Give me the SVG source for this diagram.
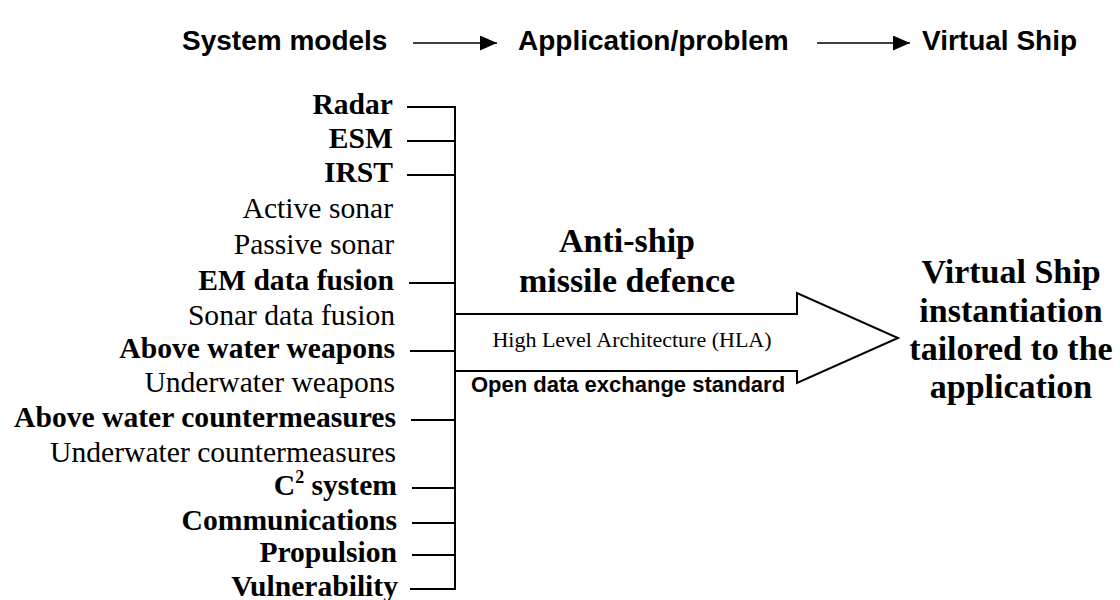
<svg xmlns="http://www.w3.org/2000/svg" width="1120" height="600" viewBox="0 0 1120 600">
<style>
.hd{font-family:"Liberation Sans",Arial,sans-serif;font-weight:bold;font-size:28px;fill:#000}
.lb{font-family:"Liberation Serif","Times New Roman",serif;font-size:29.6px;fill:#000;text-anchor:end}
.b{font-weight:bold}
.ln{stroke:#000;stroke-width:2;fill:none}
.ha{stroke:#000;stroke-width:1.6;fill:none}
.big{font-family:"Liberation Serif","Times New Roman",serif;font-weight:bold;font-size:34px;fill:#000;text-anchor:middle}
</style>
<defs>
<marker id="ah" markerUnits="userSpaceOnUse" markerWidth="18" markerHeight="16" refX="17" refY="7.5" orient="auto">
<path d="M0,0 L17,7.5 L0,15 Z" fill="#000"/>
</marker>
</defs>
<rect width="1120" height="600" fill="#fff"/>
<g id="connectors">
<line class="ha" x1="413" y1="43" x2="497" y2="43" marker-end="url(#ah)"/>
<line class="ha" x1="817" y1="43" x2="910" y2="43" marker-end="url(#ah)"/>
<path class="ln" d="M407,107 H455 V589 H410"/>
<path class="ln" d="M407,141 H455 M407,175 H455 M409,283 H455 M410,351 H455 M411,420 H455 M412,488 H455 M412,523 H455 M412,555 H455"/>
<path class="ln" d="M455,314 H797 V293 L898,338 L797,383 V371 H455"/>
</g>
<g id="h-system"><text class="hd" x="182" y="50">System models</text></g>
<g id="h-app"><text class="hd" x="518" y="50">Application/problem</text></g>
<g id="h-vs"><text class="hd" x="922" y="50">Virtual Ship</text></g>
<g id="n-radar"><text class="lb b" x="393" y="114">Radar</text></g>
<g id="n-esm"><text class="lb b" x="393" y="148">ESM</text></g>
<g id="n-irst"><text class="lb b" x="393" y="182">IRST</text></g>
<g id="n-active"><text class="lb" x="393" y="218">Active sonar</text></g>
<g id="n-passive"><text class="lb" x="394" y="254">Passive sonar</text></g>
<g id="n-em"><text class="lb b" x="394" y="290">EM data fusion</text></g>
<g id="n-sonarfusion"><text class="lb" x="395" y="325">Sonar data fusion</text></g>
<g id="n-aww"><text class="lb b" x="395" y="358">Above water weapons</text></g>
<g id="n-uww"><text class="lb" x="395" y="392">Underwater weapons</text></g>
<g id="n-awc"><text class="lb b" x="396" y="427">Above water countermeasures</text></g>
<g id="n-uwc"><text class="lb" x="396" y="462">Underwater countermeasures</text></g>
<g id="n-c2"><text class="lb b" x="397" y="495">C<tspan font-size="18" dy="-12">2</tspan><tspan dy="12"> system</tspan></text></g>
<g id="n-comm"><text class="lb b" x="397" y="530">Communications</text></g>
<g id="n-prop"><text class="lb b" x="397" y="562">Propulsion</text></g>
<g id="n-vuln"><text class="lb b" x="398" y="596">Vulnerability</text></g>
<g id="n-asmd"><text class="big" x="627" y="252">Anti-ship</text><text class="big" x="627" y="292">missile defence</text></g>
<g id="n-hla"><text x="632" y="347" font-family="Liberation Serif, Times New Roman, serif" font-size="22" text-anchor="middle">High Level Architecture (HLA)</text></g>
<g id="n-open"><text x="628" y="392" font-family="Liberation Sans, Arial, sans-serif" font-weight="bold" font-size="22" text-anchor="middle">Open data exchange standard</text></g>
<g id="n-vsi"><text class="big" x="1011" y="283">Virtual Ship</text><text class="big" x="1011" y="322">instantiation</text><text class="big" x="1011" y="360">tailored to the</text><text class="big" x="1011" y="398">application</text></g>
</svg>
